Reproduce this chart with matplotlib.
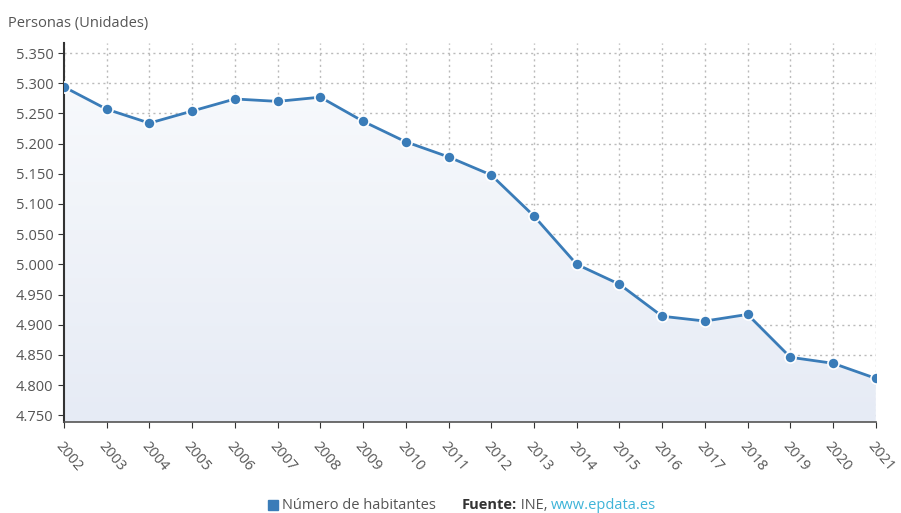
import matplotlib.pyplot as plt
import numpy as np

years = [str(y) for y in range(2002, 2022)]
habitantes = [5.294, 5.257, 5.234, 5.254, 5.274, 5.270, 5.277, 5.237, 5.203, 5.178,
              5.148, 5.080, 5.000, 4.967, 4.914, 4.906, 4.917, 4.846, 4.836, 4.811]
yticks = [4.750, 4.800, 4.850, 4.900, 4.950, 5.000, 5.050, 5.100, 5.150, 5.200,
          5.250, 5.300, 5.350]
ytick_labels = ["4.750", "4.800", "4.850", "4.900", "4.950", "5.000", "5.050",
                "5.100", "5.150", "5.200", "5.250", "5.300", "5.350"]

plt.rcParams['font.family'] = ['Open Sans', 'DejaVu Sans']
line_color = "#3a7cb8"
text_color = "#555555"

fig = plt.figure(figsize=(9.01, 5.13), dpi=100)
ax = fig.add_axes([0.071, 0.177, 0.901, 0.739])

x = np.arange(len(years))
ymin, ymax = 4.7384, 5.3666

# gradient fill under the line
poly = ax.fill_between(x, habitantes, ymin, color="none")
grad = np.linspace(0, 1, 256).reshape(-1, 1)
img = ax.imshow(grad, extent=[x[0], x[-1], ymin, max(habitantes)], origin="lower",
                cmap=plt.matplotlib.colors.LinearSegmentedColormap.from_list(
                    "g", ["#e6ebf5", "#f7f9fc"]),
                aspect="auto", zorder=1)
img.set_clip_path(poly.get_paths()[0], transform=ax.transData)

ax.plot(x, habitantes, color=line_color, lw=2, marker="o", markersize=8,
        markerfacecolor=line_color, markeredgecolor="white", markeredgewidth=1.2,
        zorder=3)

ax.set_xlim(x[0], x[-1])
ax.set_ylim(ymin, ymax)
ax.set_xticks(x)
ax.set_xticklabels(years, rotation=-50, ha="left", rotation_mode="anchor",
                   fontsize=10.5, color=text_color)
ax.set_yticks(yticks)
ax.set_yticklabels(ytick_labels, fontsize=10.5, color=text_color)
ax.tick_params(axis="x", length=4, color="#333333", pad=8)
ax.tick_params(axis="y", length=4, color="#333333")

ax.grid(True, linestyle=(0, (1.5, 2.5)), color="#bbbbbb", lw=1, zorder=0)
ax.set_axisbelow(True)
for s in ["top", "right"]:
    ax.spines[s].set_visible(False)
ax.spines["left"].set_color("#333333")
ax.spines["left"].set_linewidth(1.5)
ax.spines["bottom"].set_color("#555555")
ax.spines["bottom"].set_linewidth(1.2)

fig.text(0.009, 0.955, "Personas (Unidades)", fontsize=10.5, color=text_color,
         va="center", ha="left")

# legend and source
fig.patches.append(plt.Rectangle((0.297, 0.005), 0.011, 0.02, transform=fig.transFigure,
                                 color=line_color, figure=fig))
fig.text(0.313, 0.015, "Número de habitantes", fontsize=10.5, color=text_color,
         va="center", ha="left")
t1 = fig.text(0.512, 0.015, "Fuente:", fontsize=10.5, color="#333333",
              fontweight="bold", va="center", ha="left")
t2 = ax.annotate(" INE, ", xy=(1, 0.5), xycoords=t1, va="center", ha="left",
                 fontsize=10.5, color=text_color, annotation_clip=False)
ax.annotate("www.epdata.es", xy=(1, 0.5), xycoords=t2, va="center", ha="left",
            fontsize=10.5, color="#3fb4d8", annotation_clip=False)

plt.savefig("out.png", dpi=100)
